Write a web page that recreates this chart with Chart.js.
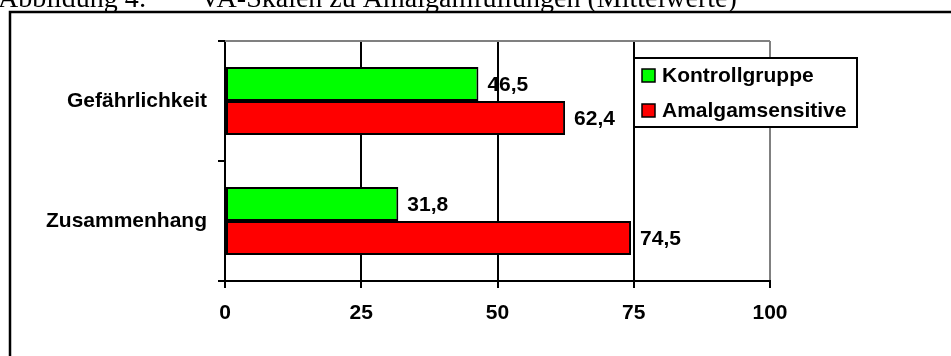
<!DOCTYPE html>
<html>
<head>
<meta charset="utf-8">
<script src="https://cdn.jsdelivr.net/npm/chart.js@4"></script>
<style>
  html, body { margin: 0; padding: 0; background: #fff; }
  canvas { display: block; }
</style>
</head>
<body>
<canvas id="vaChart" width="951" height="356"></canvas>
<script>
const categories = ['Gefährlichkeit', 'Zusammenhang'];
const kontrollgruppe = [46.5, 31.8];
const amalgamsensitive = [62.4, 74.5];
const xTicks = [0, 25, 50, 75, 100];

const boldFont = 'bold 21px "Liberation Sans", Arial, sans-serif';

// frame and cut-off caption of the document page
const pageFrame = {
    id: 'pageFrame',
    beforeDraw(chart) {
        const c = chart.ctx;
        c.save();
        c.fillStyle = '#000';
        c.font = '28px "Liberation Serif", "Times New Roman", serif';
        c.textBaseline = 'alphabetic';
        c.fillText('Abbildung 4:', -2, 7);
        c.fillText('VA-Skalen zu Amalgamfüllungen (Mittelwerte)', 200, 7);
        c.strokeStyle = '#000';
        c.lineWidth = 2.5;
        c.beginPath();
        c.moveTo(10, 360);
        c.lineTo(10, 12);
        c.lineTo(960, 12);
        c.stroke();
        c.restore();
    },
    beforeDatasetsDraw(chart) {
        const a = chart.chartArea;
        const c = chart.ctx;
        c.save();
        c.strokeStyle = '#808080';
        c.lineWidth = 2;
        c.beginPath();
        c.moveTo(a.left, a.top);
        c.lineTo(a.right, a.top);
        c.stroke();
        c.restore();
    }
};

// value labels right of each bar
const valueLabels = {
    id: 'valueLabels',
    afterDatasetsDraw(chart) {
        const c = chart.ctx;
        c.save();
        c.font = boldFont;
        c.fillStyle = '#000';
        c.textAlign = 'left';
        c.textBaseline = 'middle';
        chart.data.datasets.forEach((ds, i) => {
            chart.getDatasetMeta(i).data.forEach((bar, j) => {
                c.fillText(String(ds.data[j]).replace('.', ','), bar.x + 9, bar.y + 1);
            });
        });
        c.restore();
    }
};

// boxed legend floating in the plot
const boxLegend = {
    id: 'boxLegend',
    afterDraw(chart) {
        const c = chart.ctx;
        const x = 634, y = 58, w = 223, h = 69;
        c.save();
        c.fillStyle = '#fff';
        c.fillRect(x, y, w, h);
        c.strokeStyle = '#000';
        c.lineWidth = 2;
        c.strokeRect(x, y, w, h);
        c.font = boldFont;
        c.textBaseline = 'middle';
        chart.data.datasets.forEach((ds, i) => {
            const cy = y + 17 + i * 35;
            c.fillStyle = ds.backgroundColor;
            c.fillRect(x + 8, cy - 6, 13, 13);
            c.lineWidth = 1.5;
            c.strokeRect(x + 8, cy - 6, 13, 13);
            c.fillStyle = '#000';
            c.fillText(ds.label, x + 28, cy + 1);
        });
        c.restore();
    }
};

new Chart(document.getElementById('vaChart').getContext('2d'), {
    type: 'bar',
    data: {
        labels: categories,
        datasets: [
            {
                label: 'Kontrollgruppe',
                data: kontrollgruppe,
                backgroundColor: '#00ff00',
                borderColor: '#000',
                borderWidth: 2,
                borderSkipped: false
            },
            {
                label: 'Amalgamsensitive',
                data: amalgamsensitive,
                backgroundColor: '#ff0000',
                borderColor: '#000',
                borderWidth: 2,
                borderSkipped: false
            }
        ]
    },
    options: {
        indexAxis: 'y',
        responsive: false,
        animation: false,
        categoryPercentage: 0.567,
        barPercentage: 1,
        layout: { padding: { top: 41, right: 181, left: 0, bottom: 0 } },
        plugins: {
            legend: { display: false },
            tooltip: { enabled: false }
        },
        scales: {
            x: {
                min: 0,
                max: 100,
                afterBuildTicks: s => { s.ticks = xTicks.map(v => ({ value: v })); },
                afterFit: s => { s.height = 75; },
                border: { color: '#000', width: 2 },
                grid: {
                    lineWidth: 2,
                    color: ctx => ctx.tick && ctx.tick.value === 100 ? '#808080' : '#000',
                    tickColor: '#000',
                    tickLength: 7
                },
                ticks: {
                    color: '#000',
                    padding: 13,
                    font: { family: '"Liberation Sans", Arial, sans-serif', size: 21, weight: 'bold' }
                }
            },
            y: {
                afterFit: s => { s.width = 225; },
                border: { color: '#000', width: 2 },
                grid: {
                    drawOnChartArea: false,
                    lineWidth: 2,
                    color: '#000',
                    tickLength: 7
                },
                ticks: {
                    color: '#000',
                    padding: 11,
                    font: { family: '"Liberation Sans", Arial, sans-serif', size: 21, weight: 'bold' }
                }
            }
        }
    },
    plugins: [pageFrame, valueLabels, boxLegend]
});
</script>
</body>
</html>
